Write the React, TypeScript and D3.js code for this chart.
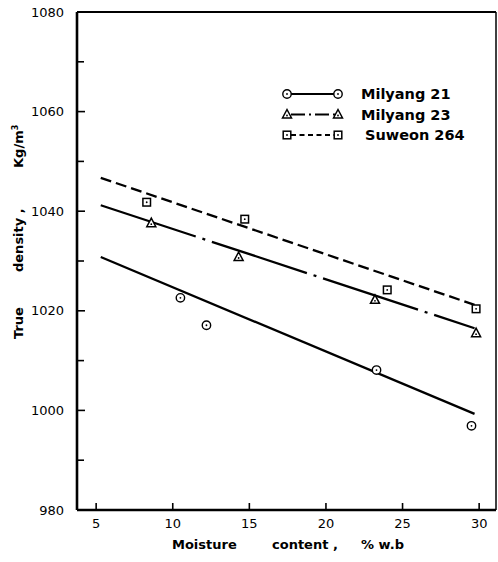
import React from "react"
import { scaleLinear, line, range } from "d3"

// values
const seriesNames = ["Milyang 21", "Milyang 23", "Suweon 264"]
const moisture21 = [10.5, 12.2, 23.3, 29.5]
const density21 = [1022.6, 1017.1, 1008.1, 996.9]
const moisture23 = [8.6, 14.3, 23.2, 29.8]
const density23 = [1037.6, 1030.8, 1022.2, 1015.5]
const moisture264 = [8.3, 14.7, 24.0, 29.8]
const density264 = [1041.8, 1038.4, 1024.2, 1020.4]
// fitted lines, two end points each
const fitMoisture = [5.3, 29.7]
const fit21 = [1030.8, 999.3]
const fit23 = [1041.2, 1016.5]
const fit264 = [1046.7, 1021.2]

const xTicks = [5, 10, 15, 20, 25, 30]
const yTicks = [980, 1000, 1020, 1040, 1060, 1080]

const width = 498
const height = 562
const font = "'DejaVu Sans', Verdana, sans-serif"

const Marker = ({ kind, x, y }: { kind: string; x: number; y: number }) => {
  if (kind === "circle")
    return (
      <g>
        <circle cx={x} cy={y} r={4.2} fill="white" stroke="black" strokeWidth={1.4} />
        <circle cx={x} cy={y} r={0.9} fill="black" />
      </g>
    )
  if (kind === "triangle")
    return (
      <g>
        <path
          d={`M${x},${y - 5}L${x + 4.5},${y + 3.5}L${x - 4.5},${y + 3.5}Z`}
          fill="white"
          stroke="black"
          strokeWidth={1.5}
        />
        <circle cx={x} cy={y + 1} r={0.9} fill="black" />
      </g>
    )
  return (
    <g>
      <rect x={x - 3.8} y={y - 3.8} width={7.6} height={7.6} fill="white" stroke="black" strokeWidth={1.5} />
      <circle cx={x} cy={y} r={0.9} fill="black" />
    </g>
  )
}

const App = () => {
  const x = scaleLinear().domain([3.75, 31.1]).range([77, 496])
  const y = scaleLinear().domain([980, 1080]).range([510, 12])

  const series = [
    { name: seriesNames[0], xs: moisture21, ys: density21, fit: fit21, kind: "circle", dash: "none", legDash: "none" },
    { name: seriesNames[1], xs: moisture23, ys: density23, fit: fit23, kind: "triangle", dash: "100 7 3 7", legDash: "14 4 2 4" },
    { name: seriesNames[2], xs: moisture264, ys: density264, fit: fit264, kind: "square", dash: "11 5", legDash: "5 3.5" },
  ]

  const lineGen = line<[number, number]>()
    .x((d) => x(d[0]))
    .y((d) => y(d[1]))

  const minorY = range(990, 1080, 20)

  return (
    <svg width={width} height={height} style={{ position: "absolute", left: 0, top: 0, background: "white" }}>
      {/* frame */}
      <line x1={77} x2={77} y1={y(1080)} y2={y(980)} stroke="black" strokeWidth={2.6} />
      <line x1={77} x2={496} y1={y(980)} y2={y(980)} stroke="black" strokeWidth={2.6} />
      <line x1={77} x2={496} y1={y(1080)} y2={y(1080)} stroke="black" strokeWidth={2} />
      <line x1={496} x2={496} y1={y(1080)} y2={y(980)} stroke="black" strokeWidth={1.5} />

      {yTicks.map((t) => (
        <g key={t} transform={`translate(0, ${y(t)})`}>
          <line x1={77} x2={85} stroke="black" strokeWidth={1.6} />
          <text x={64} dy="0.35em" textAnchor="end" fontFamily={font} fontSize={13}>
            {t}
          </text>
        </g>
      ))}
      {minorY.map((t) => (
        <line key={t} x1={77} x2={84} y1={y(t)} y2={y(t)} stroke="black" strokeWidth={1.6} />
      ))}
      {xTicks.map((t) => (
        <g key={t} transform={`translate(${x(t)}, 0)`}>
          <line y1={y(980)} y2={y(980) - 7} stroke="black" strokeWidth={1.6} />
          <text y={y(980) + 18} textAnchor="middle" fontFamily={font} fontSize={13}>
            {t}
          </text>
        </g>
      ))}

      {/* axis titles */}
      <g fontFamily={font} fontSize={13} fontWeight="bold">
        <text x={172} y={549}>Moisture</text>
        <text x={272} y={549}>content ,</text>
        <text x={361} y={549}>% w.b</text>
        <g transform="translate(23, 0) rotate(-90)">
          <text x={-339}>True</text>
          <text x={-272}>density ,</text>
          <text x={-168}>
            Kg/m<tspan dy={-5} fontSize={8}>3</tspan>
          </text>
        </g>
      </g>

      {/* fitted lines */}
      {series.map((s) => (
        <path
          key={s.name}
          d={lineGen([[fitMoisture[0], s.fit[0]], [fitMoisture[1], s.fit[1]]]) || ""}
          fill="none"
          stroke="black"
          strokeWidth={2.3}
          strokeDasharray={s.dash}
        />
      ))}

      {/* points */}
      {series.map((s) =>
        s.xs.map((v, i) => <Marker key={s.name + i} kind={s.kind} x={x(v)} y={y(s.ys[i])} />)
      )}

      {/* legend */}
      {series.map((s, i) => {
        const ly = 94 + i * 20.5
        return (
          <g key={s.name}>
            <line x1={291} x2={335} y1={ly} y2={ly} stroke="black" strokeWidth={1.8} strokeDasharray={s.legDash} />
            <Marker kind={s.kind} x={287} y={ly} />
            <Marker kind={s.kind} x={338} y={ly} />
            <text x={i === 2 ? 365 : 361} y={ly} dy="0.35em" fontFamily={font} fontSize={14.5} fontWeight="bold">
              {s.name}
            </text>
          </g>
        )
      })}
    </svg>
  )
}

export default App
